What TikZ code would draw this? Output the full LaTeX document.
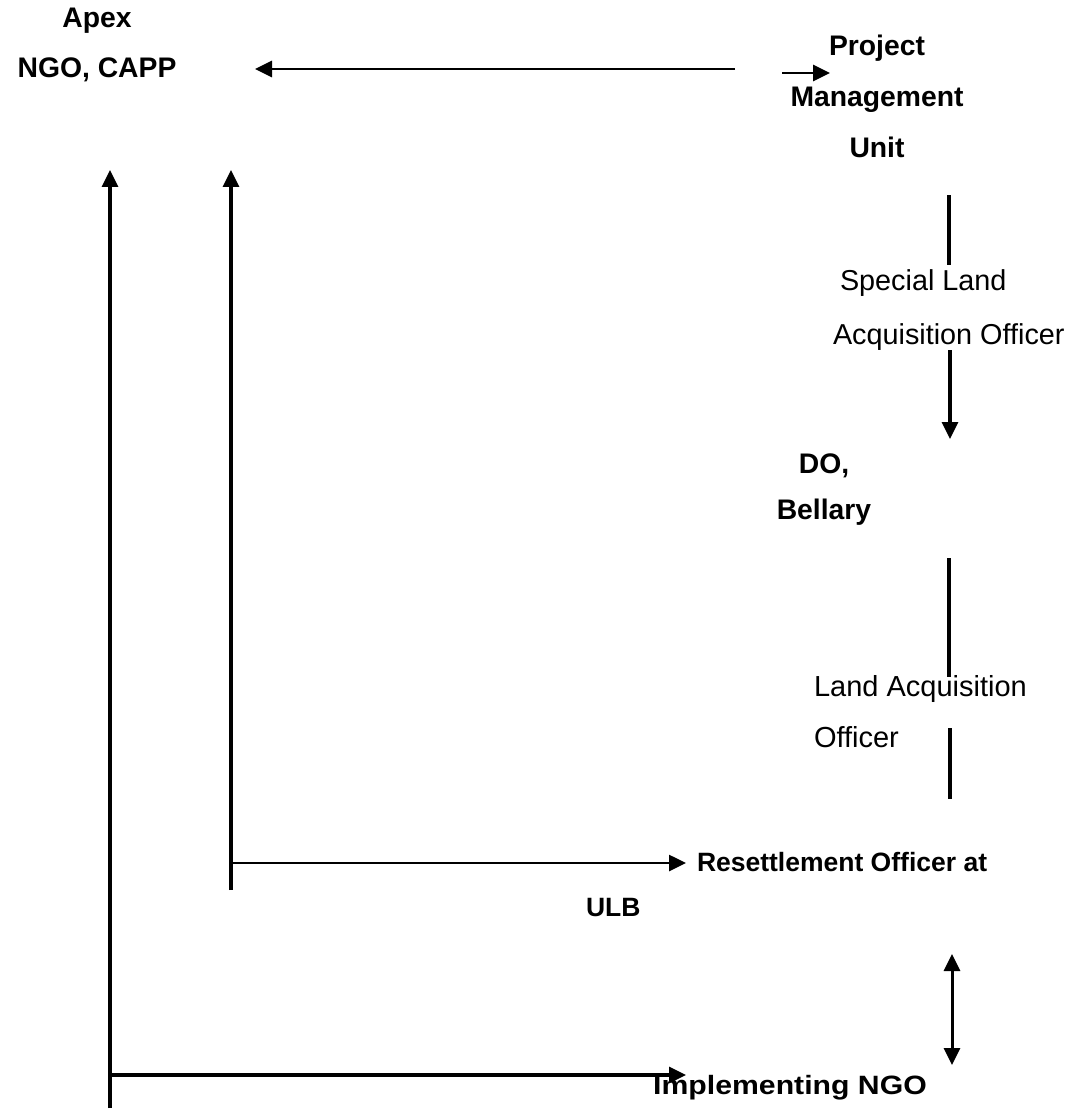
\documentclass[tikz,border=0pt]{standalone}
\usepackage{fontspec}
\setmainfont{Liberation Sans}
\usetikzlibrary{arrows.meta}
\begin{document}
\begin{tikzpicture}[x=1pt,y=-1pt,
  lbl/.style={inner sep=0pt,outer sep=0pt,font=\fontsize{28.5}{34}\selectfont},
  blbl/.style={lbl,font=\fontsize{28}{34}\selectfont\bfseries},
  conn/.style={line width=3.2pt},
  arr/.style={conn,-{Triangle[length=17pt,width=16pt]}},
  darr/.style={conn,{Triangle[length=17pt,width=16pt]}-{Triangle[length=17pt,width=16pt]}}]
\useasboundingbox (0,0) rectangle (1076,1110);
% text nodes
\node[blbl,align=center,font=\fontsize{28.3}{50}\selectfont\bfseries] (apex) at (97,45) {Apex\\NGO, CAPP};
\node[blbl,align=center,font=\fontsize{28.3}{51}\selectfont\bfseries] (pmu) at (877,96) {Project\\Management\\Unit};
\node[lbl,align=left,anchor=west,font=\fontsize{28.8}{54}\selectfont] (slao) at (833,310) {\hspace{7pt}Special Land\\Acquisition Officer};
\node[blbl,align=center,font=\fontsize{28.3}{46}\selectfont\bfseries] (do) at (824,490) {DO,\\Bellary};
\node[lbl,align=left,anchor=west,font=\fontsize{29}{51}\selectfont] (lao) at (814,712) {Land Acquisition\\Officer};
\node[blbl,anchor=west,font=\fontsize{26.5}{30}\selectfont\bfseries] (ro) at (697,862) {Resettlement Officer at};
\node[blbl,anchor=west,font=\fontsize{26.5}{30}\selectfont\bfseries] (ulb) at (586,908) {ULB};
\node[blbl,font=\fontsize{26.5}{32}\selectfont\bfseries] (ngo) at (790,1088) {\scalebox{1.14}[1]{Implementing NGO}};
% coordinates
\coordinate (a1s) at (735,69);  \coordinate (a1e) at (255,69);
\coordinate (a2s) at (782,73);  \coordinate (a2e) at (830,73);
\coordinate (l1s) at (949,195); \coordinate (l1e) at (949,265);
\coordinate (a3s) at (950,350); \coordinate (a3e) at (950,439);
\coordinate (l2s) at (949,558); \coordinate (l2e) at (949,677);
\coordinate (l3s) at (950,728); \coordinate (l3e) at (950,799);
\coordinate (d1s) at (952,954); \coordinate (d1e) at (952,1065);
\coordinate (v1s) at (110,1108); \coordinate (v1e) at (110,170);
\coordinate (v2s) at (231,890); \coordinate (v2e) at (231,170);
\coordinate (h1s) at (231,863); \coordinate (h1e) at (686,863);
\coordinate (h2s) at (110,1075); \coordinate (h2e) at (686,1075);
% connectors
\draw[arr,line width=2.8pt] (a1s) -- (a1e);
\draw[arr,line width=2.8pt] (a2s) -- (a2e);
\draw[conn] (l1s) -- (l1e);
\draw[arr] (a3s) -- (a3e);
\draw[conn] (l2s) -- (l2e);
\draw[conn] (l3s) -- (l3e);
\draw[darr,line width=3pt] (d1s) -- (d1e);
\draw[arr] (v1s) -- (v1e);
\draw[arr] (v2s) -- (v2e);
\draw[arr,line width=2.6pt] (h1s) -- (h1e);
\draw[arr] (h2s) -- (h2e);
\end{tikzpicture}
\end{document}
